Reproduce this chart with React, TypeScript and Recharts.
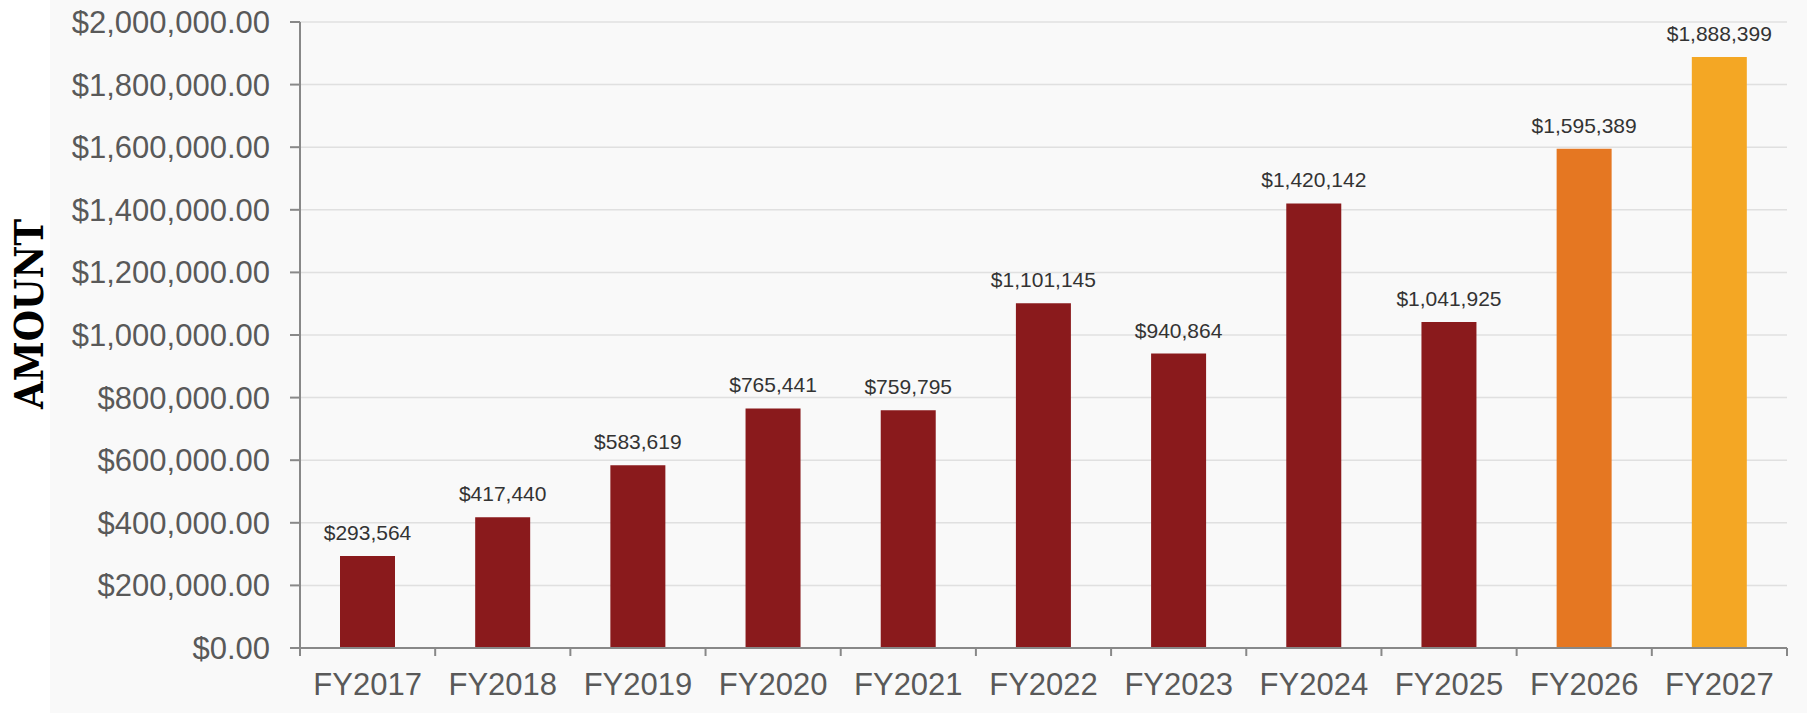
import React from 'react';
import { BarChart, Bar, XAxis, YAxis, CartesianGrid, LabelList, Cell } from 'recharts';

const categories = ['FY2017', 'FY2018', 'FY2019', 'FY2020', 'FY2021', 'FY2022', 'FY2023', 'FY2024', 'FY2025', 'FY2026', 'FY2027'];
const amounts = [293564, 417440, 583619, 765441, 759795, 1101145, 940864, 1420142, 1041925, 1595389, 1888399];
const barColors = ['#8A1A1C', '#8A1A1C', '#8A1A1C', '#8A1A1C', '#8A1A1C', '#8A1A1C', '#8A1A1C', '#8A1A1C', '#8A1A1C', '#E57722', '#F4A724'];
const yTicks = [0, 200000, 400000, 600000, 800000, 1000000, 1200000, 1400000, 1600000, 1800000, 2000000];

const data = categories.map((c, i) => ({ name: c, value: amounts[i] }));

const fmtAxis = (v: number) => '$' + v.toLocaleString('en-US', { minimumFractionDigits: 2, maximumFractionDigits: 2 });
const fmtLabel = (v: number) => '$' + Number(v).toLocaleString('en-US', { maximumFractionDigits: 0 });

const TICK_SIZE = 8;
const TICK_MARGIN = 17;

const XTick = (props: any) => {
  const { x, y, payload, index } = props;
  const off = payload && payload.offset ? payload.offset : 0;
  const axisY = y - TICK_SIZE - TICK_MARGIN;
  const isLast = index === categories.length - 1;
  return (
    <g>
      <line x1={x - off} x2={x - off} y1={axisY} y2={axisY + TICK_SIZE} stroke="#888888" strokeWidth={2} />
      {isLast && <line x1={x + off} x2={x + off} y1={axisY} y2={axisY + TICK_SIZE} stroke="#888888" strokeWidth={2} />}
      <text x={x} y={y} dy="0.71em" textAnchor="middle" fill="#595959" fontSize={31} fontFamily="'Liberation Sans', Arial, sans-serif">
        {payload.value}
      </text>
    </g>
  );
};

export default function App() {
  return (
    <div style={{ position: 'absolute', left: 0, top: 0, width: 1807, height: 714, background: '#ffffff' }}>
      <div style={{ position: 'absolute', left: 50, top: 0, width: 1757, height: 713, background: '#f9f9f9' }} />
      <svg style={{ position: 'absolute', left: 0, top: 0 }} width={70} height={714}>
        <text
          x={28}
          y={314}
          transform="rotate(-90 28 314)"
          textAnchor="middle"
          dominantBaseline="central"
          fontFamily="'DejaVu Serif Condensed', 'DejaVu Serif', serif"
          fontStretch="condensed"
          fontWeight="bold"
          fontSize={40}
          fill="#000000"
        >
          AMOUNT
        </text>
      </svg>
      <div style={{ position: 'absolute', left: 0, top: 0 }}>
        <BarChart width={1807} height={714} data={data} margin={{ top: 22, right: 20, bottom: 0, left: 0 }}>
          <CartesianGrid vertical={false} stroke="#e0e0e0" strokeWidth={1.5} />
          <XAxis
            dataKey="name"
            height={66}
            tickLine={false}
            tickSize={TICK_SIZE}
            tickMargin={TICK_MARGIN}
            axisLine={{ stroke: '#888888', strokeWidth: 2 }}
            tick={<XTick />}
            interval={0}
          />
          <YAxis
            width={300}
            domain={[0, 2000000]}
            ticks={yTicks}
            tickFormatter={fmtAxis}
            tickSize={10}
            tickMargin={20}
            tickLine={{ stroke: '#888888', strokeWidth: 2 }}
            axisLine={{ stroke: '#888888', strokeWidth: 2 }}
            tick={{ fill: '#595959', fontSize: 31, fontFamily: "'Liberation Sans', Arial, sans-serif" }}
            interval={0}
          />
          <Bar dataKey="value" barSize={55} isAnimationActive={false}>
            {data.map((d, i) => (
              <Cell key={d.name} fill={barColors[i]} />
            ))}
            <LabelList
              dataKey="value"
              position="top"
              offset={16}
              formatter={fmtLabel as any}
              fill="#333333"
              fontSize={21}
              fontFamily="'Liberation Sans', Arial, sans-serif"
            />
          </Bar>
        </BarChart>
      </div>
    </div>
  );
}
